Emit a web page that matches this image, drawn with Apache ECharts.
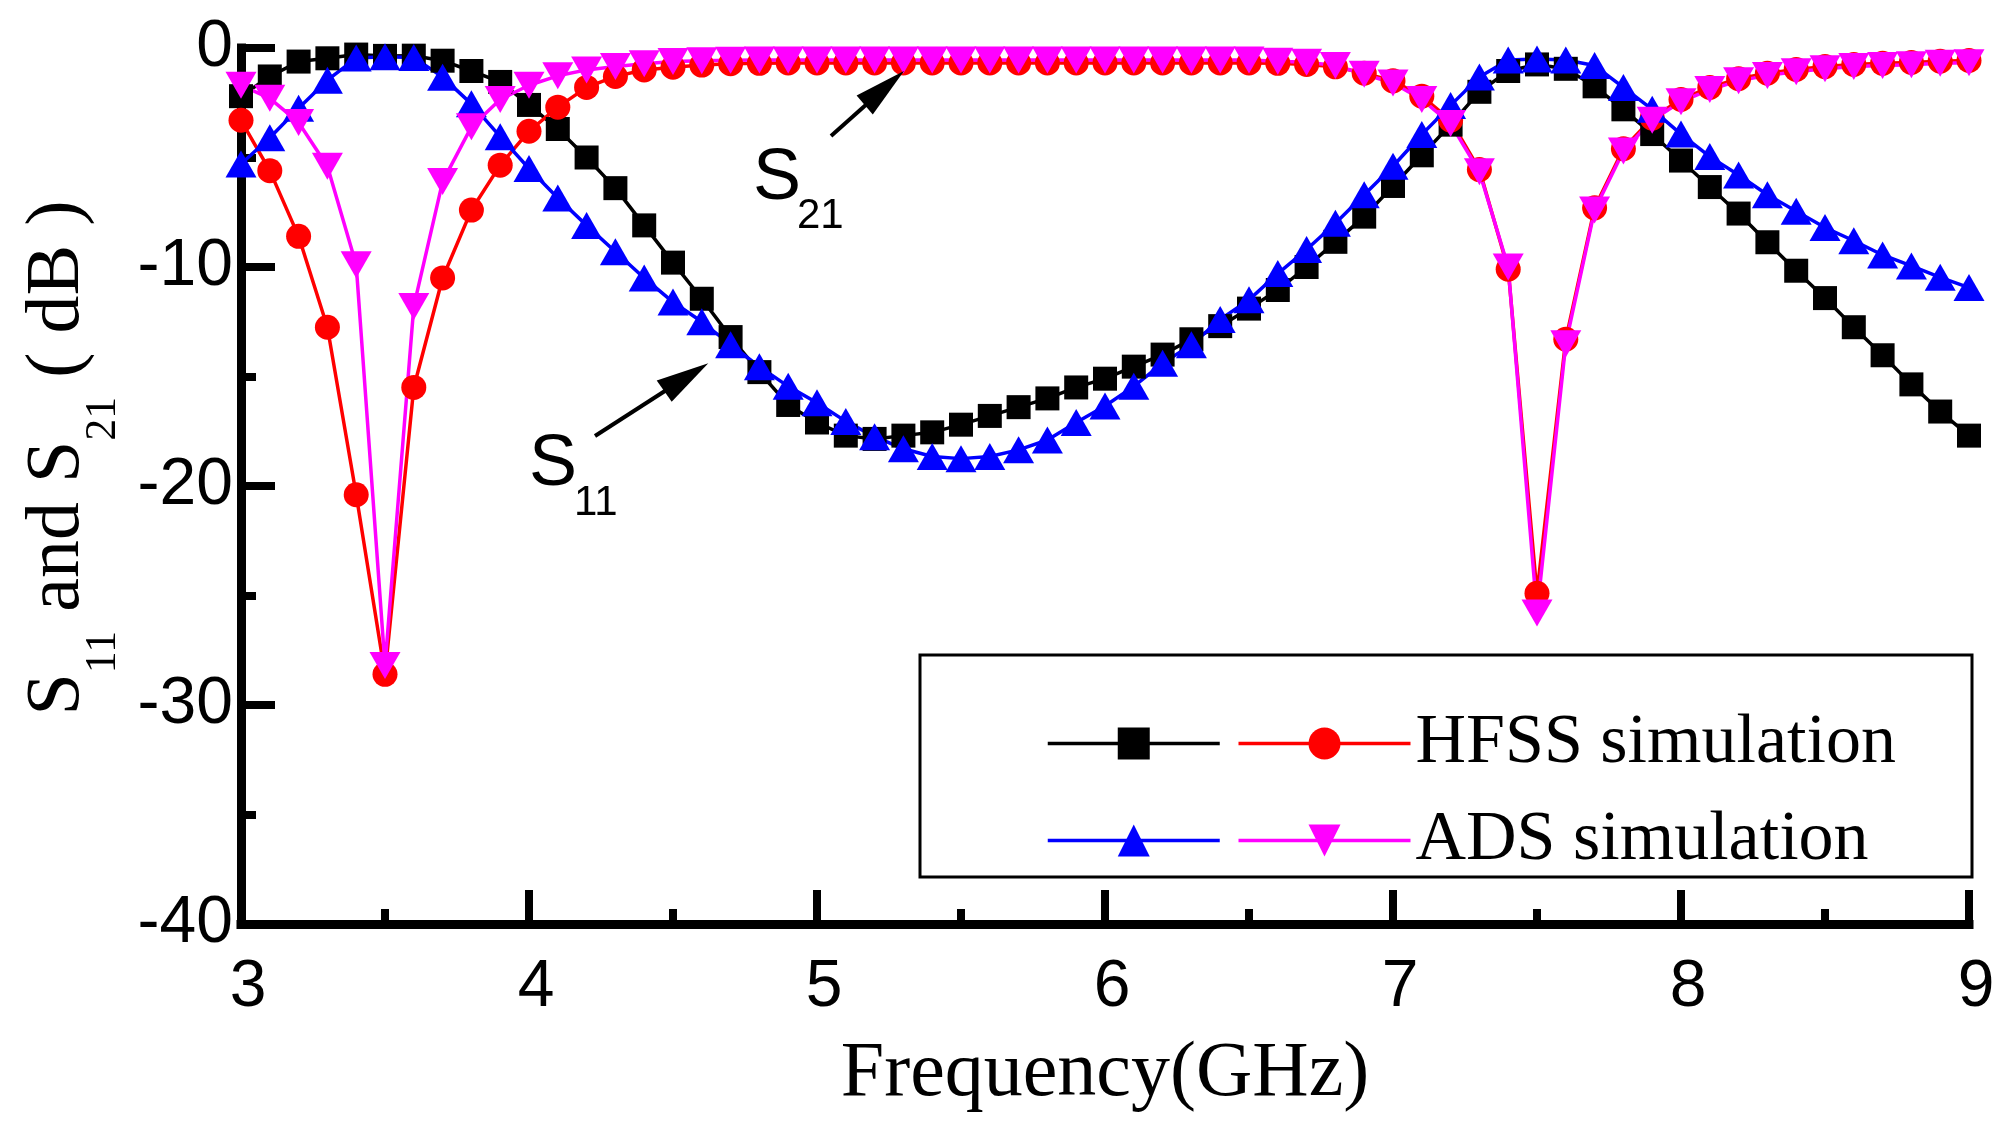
<!DOCTYPE html>
<html>
<head>
<meta charset="utf-8">
<script src="https://cdn.jsdelivr.net/npm/echarts@6/dist/echarts.min.js"></script>
<style>
html,body{margin:0;padding:0;background:#fff;}
#chart{width:2015px;height:1136px;}
</style>
</head>
<body>
<div id="chart"></div>
<script>
// Frequency points (GHz)
const freqs = [3.0,3.1,3.2,3.3,3.4,3.5,3.6,3.7,3.8,3.9,
  4.0,4.1,4.2,4.3,4.4,4.5,4.6,4.7,4.8,4.9,
  5.0,5.1,5.2,5.3,5.4,5.5,5.6,5.7,5.8,5.9,
  6.0,6.1,6.2,6.3,6.4,6.5,6.6,6.7,6.8,6.9,
  7.0,7.1,7.2,7.3,7.4,7.5,7.6,7.7,7.8,7.9,
  8.0,8.1,8.2,8.3,8.4,8.5,8.6,8.7,8.8,8.9,9.0];

// S11, HFSS simulation (black squares)
const s11Hfss = [-2.2,-1.3,-0.62,-0.47,-0.3,-0.36,-0.35,-0.58,-1.05,-1.55,
  -2.6,-3.7,-5.0,-6.4,-8.1,-9.8,-11.45,-13.2,-14.8,-16.3,
  -17.1,-17.7,-17.85,-17.7,-17.55,-17.2,-16.8,-16.4,-16.0,-15.5,
  -15.1,-14.55,-14.0,-13.3,-12.7,-11.9,-11.05,-10.0,-8.85,-7.7,
  -6.3,-4.9,-3.5,-2.0,-1.05,-0.75,-0.95,-1.75,-2.8,-3.93,
  -5.14,-6.35,-7.56,-8.87,-10.17,-11.42,-12.75,-14.03,-15.36,-16.6,-17.7];

// S21, HFSS simulation (red circles)
const s21Hfss = [-3.3,-5.6,-8.6,-12.75,-20.4,-28.6,-15.5,-10.5,-7.4,-5.35,
  -3.8,-2.7,-1.8,-1.3,-1.0,-0.88,-0.78,-0.72,-0.7,-0.68,
  -0.68,-0.68,-0.68,-0.68,-0.68,-0.68,-0.68,-0.68,-0.68,-0.68,
  -0.68,-0.68,-0.68,-0.68,-0.68,-0.68,-0.7,-0.75,-0.86,-1.15,
  -1.5,-2.2,-3.3,-5.55,-10.1,-24.9,-13.3,-7.3,-4.6,-3.2,
  -2.35,-1.8,-1.4,-1.15,-0.98,-0.85,-0.75,-0.7,-0.66,-0.6,-0.57];

// S11, ADS simulation (blue up-triangles)
const s11Ads = [-5.3,-4.1,-2.75,-1.47,-0.46,-0.4,-0.43,-1.33,-2.55,-4.05,
  -5.5,-6.85,-8.1,-9.3,-10.5,-11.6,-12.5,-13.55,-14.55,-15.45,
  -16.2,-17.05,-17.75,-18.3,-18.65,-18.75,-18.65,-18.35,-17.9,-17.1,
  -16.35,-15.45,-14.4,-13.55,-12.4,-11.5,-10.3,-9.2,-8.0,-6.7,
  -5.4,-3.95,-2.62,-1.32,-0.55,-0.5,-0.55,-0.8,-1.8,-2.8,
  -3.93,-4.96,-5.8,-6.7,-7.45,-8.2,-8.8,-9.45,-9.95,-10.47,-10.94];

// S21, ADS simulation (magenta down-triangles)
const s21Ads = [-1.7,-2.3,-3.4,-5.4,-9.9,-28.2,-11.8,-6.1,-3.6,-2.35,
  -1.7,-1.27,-1.0,-0.84,-0.72,-0.62,-0.58,-0.56,-0.55,-0.55,
  -0.55,-0.55,-0.55,-0.55,-0.55,-0.55,-0.55,-0.55,-0.55,-0.55,
  -0.55,-0.55,-0.55,-0.55,-0.55,-0.55,-0.6,-0.65,-0.8,-1.2,
  -1.6,-2.35,-3.45,-5.65,-10.0,-25.8,-13.5,-7.4,-4.7,-3.3,
  -2.45,-1.9,-1.5,-1.25,-1.08,-0.95,-0.85,-0.8,-0.76,-0.7,-0.67];

const legendNames = {'S11 HFSS':'', 'S21 HFSS':'HFSS simulation', 'S11 ADS':'', 'S21 ADS':'ADS simulation'};

const pair = arr => freqs.map((f, i) => [f, arr[i]]);

const chart = echarts.init(document.getElementById('chart'), null, {renderer:'canvas'});

function mkSeries(name, data, color, symbol, size, rotate) {
  return {
    name: name, type: 'line', data: pair(data),
    symbol: symbol, symbolSize: size, symbolRotate: rotate || 0,
    showAllSymbol: true, clip: false,
    lineStyle: {color: color, width: 3.5},
    itemStyle: {color: color, borderWidth: 0},
    emphasis: {disabled: true},
    animation: false
  };
}

const axisCommon = {
  axisLine: {show: true, onZero: false, lineStyle: {color: '#000', width: 9, cap: 'square'}},
  axisTick: {show: true, inside: true, length: 34, lineStyle: {color: '#000', width: 8}},
  minorTick: {show: true, splitNumber: 2, length: 15, lineStyle: {color: '#000', width: 8}},
  splitLine: {show: false},
  minorSplitLine: {show: false}
};

chart.setOption({
  animation: false,
  backgroundColor: '#fff',
  grid: {left: 241, right: 46, top: 48, bottom: 212, containLabel: false},
  xAxis: Object.assign({
    type: 'value', min: 3, max: 9, interval: 1,
    axisLabel: {margin: 31, fontSize: 66, fontFamily: '"Liberation Sans", Arial, sans-serif', color: '#000', padding: [0, 0, 0, 14]},
    name: 'Frequency(GHz)', nameLocation: 'middle', nameGap: 151,
    nameTextStyle: {fontFamily: '"Liberation Serif", "Times New Roman", serif', fontSize: 78, color: '#000', verticalAlign: 'middle'}
  }, axisCommon),
  yAxis: Object.assign({
    type: 'value', min: -40, max: 0, interval: 10,
    axisLabel: {margin: 8, fontSize: 66, fontFamily: '"Liberation Sans", Arial, sans-serif', color: '#000'},
    name: '{m|S}{s|11}{m| and S}{s|21}{m| ( dB )}',
    nameLocation: 'middle', nameGap: 183, nameRotate: 90,
    nameTextStyle: {
      verticalAlign: 'middle', align: 'center', padding: [0, 0, 0, 56],
      rich: {
        m: {fontFamily: '"Liberation Serif", "Times New Roman", serif', fontSize: 76, color: '#000'},
        s: {fontFamily: '"Liberation Serif", "Times New Roman", serif', fontSize: 44, color: '#000', padding: [91, 0, 0, 0]}
      }
    }
  }, axisCommon),
  legend: {
    left: 1046, top: 701, width: 880, orient: 'horizontal',
    itemWidth: 172, itemHeight: 40, itemGap: 12, padding: 0,
    selectedMode: false,
    data: ['S11 HFSS', 'S21 HFSS', 'S11 ADS', 'S21 ADS'],
    formatter: name => legendNames[name],
    lineStyle: {width: 3.5},
    textStyle: {fontFamily: '"Liberation Serif", "Times New Roman", serif', fontSize: 70, color: '#000', lineHeight: 85}
  },
  series: [
    mkSeries('S11 HFSS', s11Hfss, '#000000', 'rect', 24),
    mkSeries('S21 HFSS', s21Hfss, '#ff0000', 'circle', 25),
    mkSeries('S11 ADS', s11Ads, '#0000ff', 'triangle', [31, 27]),
    mkSeries('S21 ADS', s21Ads, '#ff00ff', 'triangle', [31, 27], 180)
  ],
  graphic: [
    {type: 'rect', silent: true, z: 50, shape: {x: 920, y: 655, width: 1052, height: 222},
     style: {fill: 'none', stroke: '#000', lineWidth: 3}},
    {type: 'text', silent: true, z: 50, x: 753, y: 179,
     style: {text: 'S', fontSize: 72, fontFamily: '"Liberation Sans", Arial, sans-serif', fill: '#000', align: 'left', verticalAlign: 'middle'}},
    {type: 'text', silent: true, z: 50, x: 797, y: 216,
     style: {text: '21', fontSize: 42, fontFamily: '"Liberation Sans", Arial, sans-serif', fill: '#000', align: 'left', verticalAlign: 'middle'}},
    {type: 'text', silent: true, z: 50, x: 529, y: 465,
     style: {text: 'S', fontSize: 72, fontFamily: '"Liberation Sans", Arial, sans-serif', fill: '#000', align: 'left', verticalAlign: 'middle'}},
    {type: 'text', silent: true, z: 50, x: 574, y: 503,
     style: {text: '11', fontSize: 42, fontFamily: '"Liberation Sans", Arial, sans-serif', fill: '#000', align: 'left', verticalAlign: 'middle'}},
    {type: 'line', silent: true, z: 50, shape: {x1: 831, y1: 136, x2: 868, y2: 103},
     style: {stroke: '#000', lineWidth: 4}},
    {type: 'polygon', silent: true, z: 50, shape: {points: [[904, 71], [872.8, 114.4], [856.6, 95.6]]},
     style: {fill: '#000'}},
    {type: 'line', silent: true, z: 50, shape: {x1: 595, y1: 436, x2: 668, y2: 389},
     style: {stroke: '#000', lineWidth: 4}},
    {type: 'polygon', silent: true, z: 50, shape: {points: [[708.3, 363.3], [656.7, 380.4], [671.7, 401.8]]},
     style: {fill: '#000'}}
  ]
});
</script>
</body>
</html>
